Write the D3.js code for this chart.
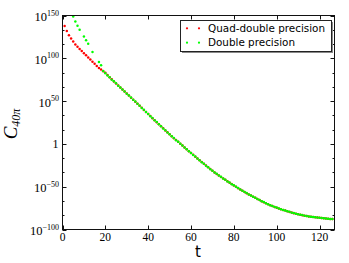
<!DOCTYPE html>
<html><head><meta charset="utf-8">
<script src="https://cdn.jsdelivr.net/npm/d3@7"></script>
<style>body{margin:0;background:#fff}svg{display:block}</style>
</head><body>
<svg id="c" width="349" height="263"></svg>
<script>
// ---- data (log10 of C_40π) ----
const quadT = d3.range(1, 127);
const quadExp = [
 137.6,132,127,123,119.5,116,113.5,111,108.5,106,103.5,101,98.5,96,93.5,91,88.8,87,85,83,
 80.5,78,75.5,73,70.6,68.3,66,63.6,61.2,58.8,56.4,54,51.6,49.3,46.9,44.5,42.1,39.7,37.3,34.9,
 32.5,30.1,27.7,25.4,23,20.6,18.2,15.8,13.5,11.2,8.9,6.7,4.5,2.4,0.2,-2,-4.2,-6.3,-8.5,-10.6,
 -12.8,-14.9,-17,-19.1,-21.2,-23.3,-25.3,-27.4,-29.4,-31.4,-33.3,-35.1,-36.9,-38.6,-40.3,-42,-43.7,-45.3,-46.9,-48.5,
 -50.1,-51.7,-53.2,-54.7,-56.2,-57.6,-59,-60.4,-61.7,-63,-64.3,-65.6,-66.9,-68.1,-69.3,-70.5,-71.6,-72.6,-73.6,-74.5,
 -75.4,-76.3,-77.1,-77.9,-78.7,-79.5,-80.2,-80.9,-81.6,-82.2,-82.8,-83.3,-83.8,-84.3,-84.7,-85.1,-85.4,-85.7,-86,-86.3,
 -86.6,-86.9,-87.1,-87.4,-87.6,-87.8
];
const doubleT = d3.range(5, 127);
const doubleExp = [
 148.8,143,138,133.4,null,125.6,121,117,null,107.3,null,null,95.7,92,85.2,82.6,80,77.8,75,73.2,
 70.8,68,65.8,63.5,61.3,58.7,56.5,54.1,51.5,49.4,46.8,44.6,42,39.8,37.2,35,32.4,30.2,27.6,25.5,
 22.9,20.7,18.1,15.9,13.4,11.3,8.8,6.8,4.4,2.5,0.1,-1.9,-4.3,-6.2,-8.6,-10.5,-12.9,-14.8,-17.1,-19,
 -21.3,-23.2,-25.4,-27.3,-29.5,-31.3,-33.4,-35,-37,-38.5,-40.4,-41.9,-43.8,-45.2,-47,-48.4,-50.2,-51.6,-53.3,-54.6,
 -56.3,-57.5,-59.1,-60.3,-61.8,-62.9,-64.4,-65.5,-67,-68,-69.4,-70.4,-71.7,-72.5,-73.7,-74.4,-75.5,-76.2,-77.2,-77.8,
 -78.8,-79.4,-80.3,-80.8,-81.7,-82.1,-82.9,-83.2,-83.9,-84.2,-84.8,-85,-85.5,-85.6,-86.1,-86.2,-86.7,-86.8,-87.2,-87.3,
 -87.7,-87.8
];
const xTicks = [0, 20, 40, 60, 80, 100, 120];
const yTickExp = [-100, -50, 0, 50, 100, 150];
const seriesNames = ["Quad-double precision", "Double precision"];

// ---- layout ----
const L = 62.5, R = 334.5, T = 15.5, B = 229.5;
const svg = d3.select("#c");
const x = d3.scaleLinear().domain([0, 127]).range([L, R]);
const y = d3.scaleLog().domain([1e-100, 1e150]).range([B, T]);

const plot = svg.append("g");
svg.append("clipPath").attr("id","clip").append("rect")
  .attr("x", L).attr("y", T).attr("width", R-L).attr("height", B-T);

function drawSeries(ts, es, color){
  const pts = ts.map((t,i)=>({t, e: es[i]})).filter(d=>d.e!==null);
  plot.append("g").attr("clip-path","url(#clip)").selectAll("circle").data(pts).join("circle")
    .attr("cx", d=>x(d.t)).attr("cy", d=>y(Math.pow(10, d.e))).attr("r", 1.25)
    .attr("fill", color);
}
drawSeries(quadT, quadExp, "#ff0000");
drawSeries(doubleT, doubleExp, "#00ff00");

// ---- frame ----
svg.append("rect").attr("x", L).attr("y", T).attr("width", R-L).attr("height", B-T)
  .attr("fill","none").attr("stroke","#111").attr("stroke-width",1);

// x ticks (inward, bottom and top)
const g = svg.append("g").attr("stroke","#111").attr("stroke-width",1);
xTicks.forEach(v=>{
  const px = Math.round(x(v))+0.5;
  g.append("line").attr("x1",px).attr("x2",px).attr("y1",B).attr("y2",B-4);
  g.append("line").attr("x1",px).attr("x2",px).attr("y1",T).attr("y2",T+4);
});
// y ticks major + minor
yTickExp.forEach((e,i)=>{
  const py = Math.round(y(Math.pow(10,e)))+0.5;
  g.append("line").attr("x1",L).attr("x2",L+4).attr("y1",py).attr("y2",py);
  g.append("line").attr("x1",R).attr("x2",R-4).attr("y1",py).attr("y2",py);
  if(i < yTickExp.length-1){
    [1/3, 2/3].forEach(f=>{
      const pm = Math.round(y(Math.pow(10, e + f*50)))+0.5;
      g.append("line").attr("x1",L).attr("x2",L+2).attr("y1",pm).attr("y2",pm);
      g.append("line").attr("x1",R).attr("x2",R-2).attr("y1",pm).attr("y2",pm);
    });
  }
});

// tick labels
const serif = "'Liberation Serif','Times New Roman',serif";
svg.append("g").selectAll("text").data(xTicks).join("text")
  .attr("x", d=>x(d)).attr("y", 240.5).attr("text-anchor","middle")
  .attr("font-family", serif).attr("font-size", 11.5).attr("fill","#000")
  .text(d=>d);

const yl = svg.append("g");
yTickExp.forEach(e=>{
  const py = y(Math.pow(10,e));
  if(e===0){
    yl.append("text").attr("x", 58.5).attr("y", py+4.3).attr("text-anchor","end")
      .attr("font-family", serif).attr("font-size", 12).text("1");
  } else {
    const t = yl.append("text").attr("x", 59).attr("y", py+5.5).attr("text-anchor","end")
      .attr("font-family", serif).attr("font-size", 12.5);
    t.append("tspan").text("10");
    t.append("tspan").attr("font-size", 8).attr("dy", -5.5).text(e<0 ? "\u2212"+(-e) : e);
  }
});

// axis labels
svg.append("text").attr("x", 198).attr("y", 257).attr("text-anchor","middle")
  .attr("font-family","'DejaVu Sans',sans-serif").attr("font-size", 15).text("t");
const yt = svg.append("text").attr("transform","translate(16.5,124) rotate(-90)")
  .attr("text-anchor","middle").attr("font-family", serif).attr("font-style","italic");
yt.append("tspan").attr("font-size", 19).text("C");
yt.append("tspan").attr("font-size", 12).attr("dy", 3).text("40\u03c0");

// legend
const lg = svg.append("g");
lg.append("rect").attr("x", 182).attr("y", 22).attr("width", 151).attr("height", 31).attr("fill","#888");
lg.append("rect").attr("x", 180.5).attr("y", 20.5).attr("width", 151).attr("height", 31)
  .attr("fill","#fff").attr("stroke","#222").attr("stroke-width",1);
const legColors = ["#ff0000", "#00ff00"];
seriesNames.forEach((name,i)=>{
  const cy = 28.3 + i*14.4;
  [187, 199].forEach(cx=>lg.append("circle").attr("cx",cx).attr("cy",cy).attr("r",1.1).attr("fill",legColors[i]));
  lg.append("text").attr("x", 208).attr("y", cy+3.6)
    .attr("font-family","'DejaVu Sans',sans-serif").attr("font-size", 10.4).attr("fill","#000").text(name);
});
</script>
</body></html>
